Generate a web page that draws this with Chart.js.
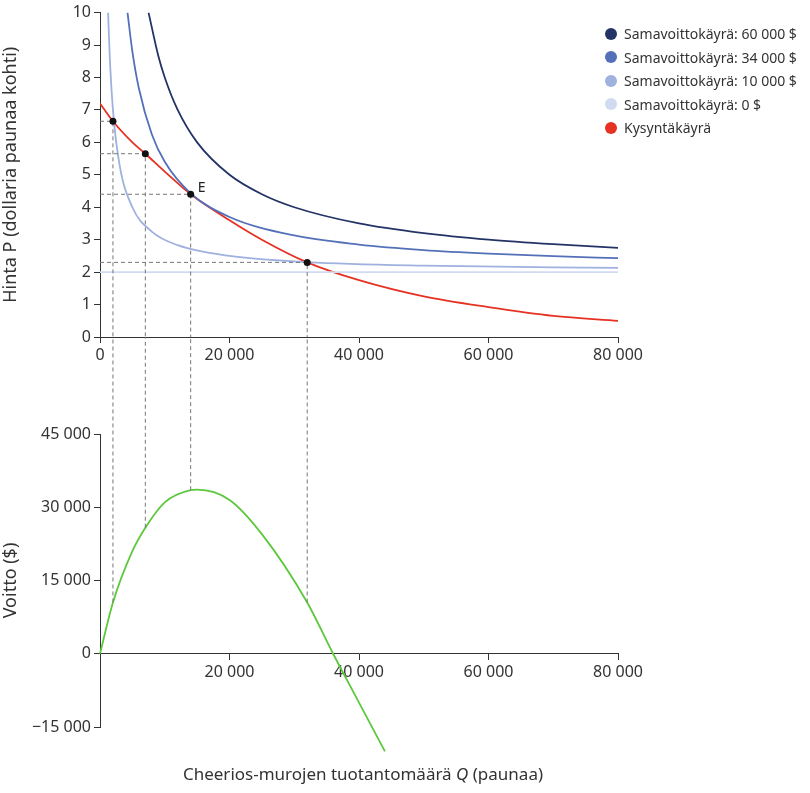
<!DOCTYPE html>
<html><head><meta charset="utf-8">
<script src="https://cdn.jsdelivr.net/npm/chart.js@4"></script>
<style>
body{margin:0;width:810px;height:793px;position:relative;background:#fff;font-family:"Noto Sans",sans-serif;color:#333}
#legend{position:absolute;left:605px;top:22px;font-size:14px}
#legend div{height:23.5px;display:flex;align-items:center}
#legend span{display:inline-block;width:12px;height:12px;border-radius:50%;margin-right:7px}
#xt{position:absolute;left:100px;width:526px;top:762px;text-align:center;font-size:17px}
</style></head><body>
<div style="position:absolute;left:0;top:0;width:646px;height:370px"><canvas id="top"></canvas></div>
<div style="position:absolute;left:0;top:337px;width:646px;height:456px"><canvas id="bot"></canvas></div>
<div id="legend"></div>
<div id="xt">Cheerios-murojen tuotantomäärä <i>Q</i> (paunaa)</div>
<script>
// demand curve
var demandQ = [0,2000,5000,7000,10000,14000,20000,25000,32000,40000,50000,60000,70000,80000];
var demandP = [7.2,6.65,6.0,5.65,5.1,4.4,3.6,3.0,2.3,1.75,1.25,0.92,0.65,0.5];
// isoprofit curves
var isoQ60 = [7500,9000,10000,12000,15000,20000,25000,30000,40000,50000,60000,70000,80000];
var isoP60 = [10,8.67,8,7,6,5,4.4,4,3.5,3.2,3,2.86,2.75];
var isoQ34 = [4250,5000,6000,8000,10000,14000,20000,30000,40000,50000,60000,70000,80000];
var isoP34 = [10,8.8,7.67,6.25,5.4,4.43,3.7,3.13,2.85,2.68,2.57,2.49,2.43];
var isoQ10 = [1250,1500,2000,3000,5000,8000,12000,20000,32000,50000,80000];
var isoP10 = [10,8.67,7,5.33,4,3.25,2.83,2.5,2.31,2.2,2.13];
var isoQ0 = [0,80000];
var isoP0 = [2,2];
// profit curve
var profitQ = [0,2000,5000,7000,10000,14000,15000,20000,25000,32000,36000,40000,44000];
var profitV = [0,10500,21000,25800,31000,33500,33600,31500,24500,10500,0,-10000,-20000];
// guide points
var guideQ = [2000,7000,14000,32000];
var guideP = [6.65,5.65,4.4,2.3];
var guideV = [10500,25800,33500,10500];

var names = ['Samavoittokäyrä: 60 000 $','Samavoittokäyrä: 34 000 $','Samavoittokäyrä: 10 000 $','Samavoittokäyrä: 0 $','Kysyntäkäyrä'];
var colors = ['#243366','#5470b9','#9fb1de','#d0daf0','#e63222'];
document.getElementById('legend').innerHTML = names.map(function(n,i){
  return '<div><span style="background:'+colors[i]+'"></span>'+n+'</div>';}).join('');

function pts(xs, ys){ return xs.map(function(x,i){ return {x:x, y:ys[i]}; }); }
function fmt(v){ var s = Math.abs(v).toString().replace(/\B(?=(\d{3})+(?!\d))/g,' '); return (v<0?'\u2212':'')+s; }
Chart.defaults.font.family = '"Noto Sans", sans-serif';
Chart.defaults.font.size = 16;
Chart.defaults.color = '#333';

function line(data, c, w){ return {data:data, borderColor:c, borderWidth:w||1.8, pointRadius:0, fill:false, cubicInterpolationMode:'monotone'}; }
function axisGrid(){ return {display:true, drawOnChartArea:false, drawTicks:true, tickLength:6, color:'#333'}; }

var guideTop = {id:'gt', afterDatasetsDraw:function(c){
  var ctx=c.ctx, x=c.scales.x, y=c.scales.y;
  ctx.save(); ctx.setLineDash([4,3]); ctx.strokeStyle='#777'; ctx.lineWidth=1;
  guideQ.forEach(function(q,i){
    var px=x.getPixelForValue(q), py=y.getPixelForValue(guideP[i]);
    ctx.beginPath(); ctx.moveTo(x.left,py); ctx.lineTo(px,py); ctx.lineTo(px,y.getPixelForValue(0)); ctx.stroke();
  });
  ctx.setLineDash([]); ctx.fillStyle='#111';
  guideQ.forEach(function(q,i){
    ctx.beginPath(); ctx.arc(x.getPixelForValue(q), y.getPixelForValue(guideP[i]), 3.5, 0, 2*Math.PI); ctx.fill();
  });
  ctx.font='14px "Noto Sans"'; ctx.fillStyle='#222';
  ctx.fillText('E', x.getPixelForValue(14000)+7, y.getPixelForValue(4.4)-2);
  ctx.restore();
}};
var guideBot = {id:'gb', afterDatasetsDraw:function(c){
  var ctx=c.ctx, x=c.scales.x, y=c.scales.y;
  ctx.save(); ctx.setLineDash([4,3]); ctx.strokeStyle='#777'; ctx.lineWidth=1;
  guideQ.forEach(function(q,i){
    var px=x.getPixelForValue(q);
    ctx.beginPath(); ctx.moveTo(px,y.getPixelForValue(guideV[i])); ctx.lineTo(px,0); ctx.stroke();
  });
  ctx.restore();
}};

new Chart(document.getElementById('top'), {
  type:'line',
  data:{datasets:[
    line(pts(isoQ60,isoP60),colors[0]),
    line(pts(isoQ34,isoP34),colors[1]),
    line(pts(isoQ10,isoP10),colors[2]),
    line(pts(isoQ0,isoP0),colors[3]),
    line(pts(demandQ,demandP),colors[4])
  ]},
  options:{responsive:true, maintainAspectRatio:false, animation:false,
    layout:{padding:{top:12,right:20,left:0,bottom:0}},
    plugins:{legend:{display:false}, tooltip:{enabled:false}},
    scales:{
      x:{type:'linear', min:0, max:80000, grid:axisGrid(), border:{color:'#333'},
        ticks:{stepSize:20000, callback:fmt, maxRotation:0}, afterFit:function(s){s.height=33;}},
      y:{min:0, max:10, grid:axisGrid(), border:{color:'#333'}, ticks:{stepSize:1},
        title:{display:true, text:'Hinta P (dollaria paunaa kohti)', font:{size:18}, padding:0},
        afterFit:function(s){s.width=100;}}
    }},
  plugins:[guideTop]
});

var profitDs = line(pts(profitQ,profitV),'#5cc83c');
profitDs.clip = false;
new Chart(document.getElementById('bot'), {
  type:'line',
  data:{datasets:[profitDs]},
  options:{responsive:true, maintainAspectRatio:false, animation:false,
    layout:{padding:{top:97,right:20,left:0,bottom:66}},
    plugins:{legend:{display:false}, tooltip:{enabled:false}},
    scales:{
      x:{type:'linear', min:0, max:80000, position:{y:0}, grid:axisGrid(), border:{color:'#333'},
        ticks:{stepSize:20000, maxRotation:0, callback:function(v){ return v===0?'':fmt(v); }}},
      y:{min:-15000, max:45000, grid:axisGrid(), border:{color:'#333'}, ticks:{stepSize:15000, callback:fmt},
        title:{display:true, text:'Voitto ($)', font:{size:18}, padding:0},
        afterFit:function(s){s.width=100;}}
    }},
  plugins:[guideBot]
});
</script>
</body></html>
